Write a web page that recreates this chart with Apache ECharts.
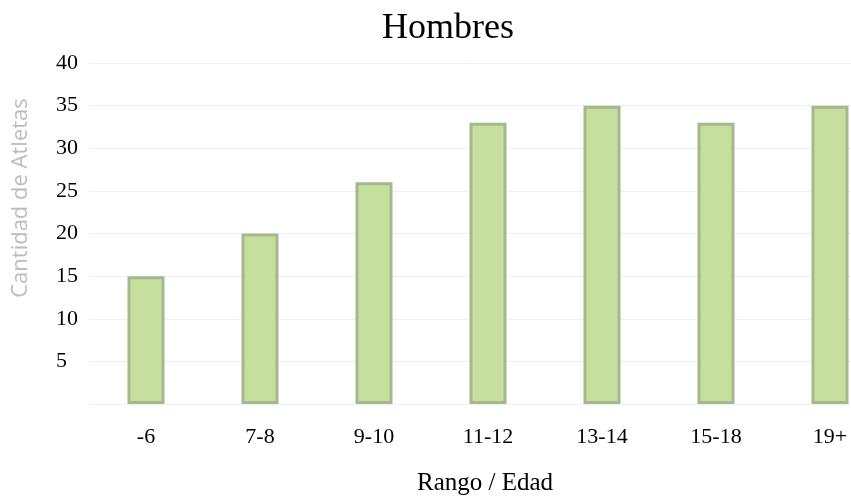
<!DOCTYPE html>
<html>
<head>
<meta charset="utf-8">
<script src="https://cdn.jsdelivr.net/npm/echarts@6/dist/echarts.min.js"></script>
<style>html,body{margin:0;padding:0;background:#fff;}#c{width:851px;height:504px;}</style>
</head>
<body>
<div id="c"></div>
<script>
const categories = ['-6', '7-8', '9-10', '11-12', '13-14', '15-18', '19+'];
const values = [15, 20, 26, 33, 35, 33, 35];
const titleText = 'Hombres';
const xName = 'Rango / Edad';
const yName = 'Cantidad de Atletas';

const chart = echarts.init(document.getElementById('c'));
chart.setOption({
  animation: false,
  backgroundColor: '#ffffff',
  title: {
    text: titleText, left: 443, top: 6, textAlign: 'center',
    textStyle: { fontFamily: 'Liberation Serif', fontSize: 36, fontWeight: 'normal', color: '#000' }
  },
  grid: { left: 89, width: 798, top: 63, height: 341, outerBoundsMode: 'none', containLabel: false },
  xAxis: {
    type: 'category', data: categories,
    name: xName, nameLocation: 'middle', nameGap: 67,
    nameTextStyle: { fontFamily: 'Liberation Serif', fontSize: 25, color: '#000', padding: [0, 0, 0, -6] },
    axisLine: { show: false }, axisTick: { show: false },
    axisLabel: { fontFamily: 'Liberation Serif', fontSize: 22, color: '#000', margin: 22 }
  },
  yAxis: {
    type: 'value', min: 0, max: 40, interval: 5,
    axisLine: { show: false }, axisTick: { show: false },
    splitLine: { lineStyle: { color: '#f0f0f0', width: 1 } },
    axisLabel: { fontFamily: 'Liberation Serif', fontSize: 22, color: '#000', align: 'left', margin: 33,
      formatter: v => v === 0 ? '' : String(v) }
  },
  graphic: [{
    type: 'text', x: 21, y: 198, rotation: Math.PI / 2,
    style: { text: yName, fontFamily: 'Open Sans', fontSize: 22, fill: '#bcbcbc', align: 'center', verticalAlign: 'middle' }
  }],
  series: [{
    type: 'bar', data: values, barWidth: 37,
    itemStyle: { color: '#c6df9e', borderColor: '#a4b98b', borderWidth: 3 }
  }]
});
</script>
</body>
</html>
